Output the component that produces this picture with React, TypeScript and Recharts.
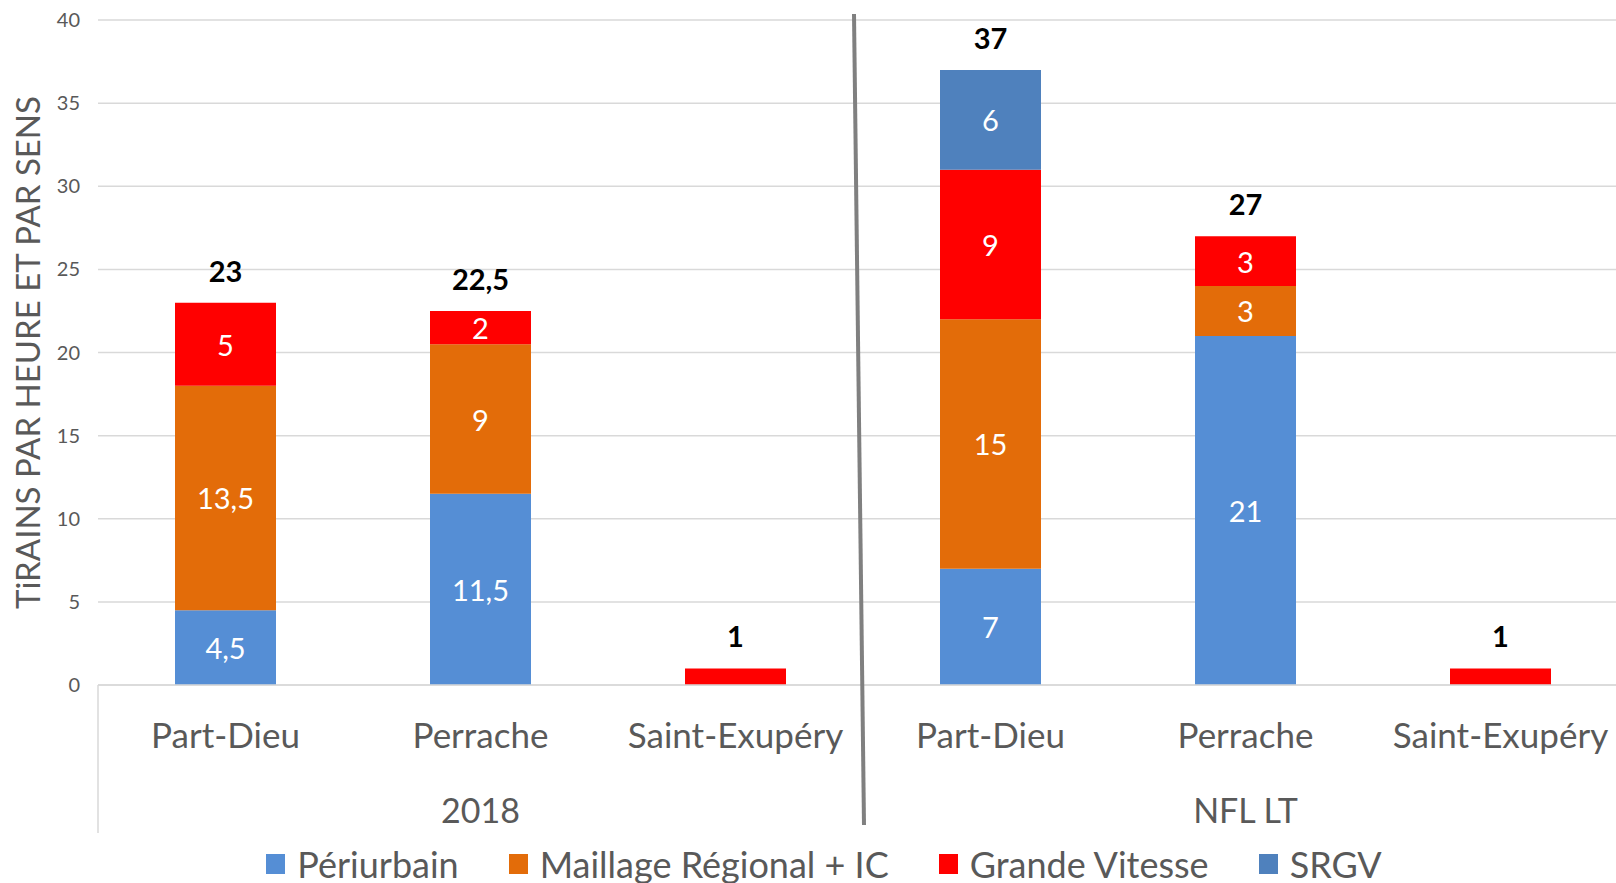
import React from 'react';
import { ComposedChart, Bar, Line, XAxis, YAxis, CartesianGrid, Legend, LabelList } from 'recharts';

const stations = ['Part-Dieu', 'Perrache', 'Saint-Exupéry', 'Part-Dieu', 'Perrache', 'Saint-Exupéry'];
const periods = ['2018', '2018', '2018', 'NFL LT', 'NFL LT', 'NFL LT'];
const periurbain = [4.5, 11.5, 0, 7, 21, 0];
const maillage = [13.5, 9, 0, 15, 3, 0];
const grandeVitesse = [5, 2, 1, 9, 3, 1];
const srgv = [0, 0, 0, 6, 0, 0];
const yTicks = [0, 5, 10, 15, 20, 25, 30, 35, 40];

const series = [
  { key: 'periurbain', name: 'Périurbain', color: '#558ED5' },
  { key: 'maillage', name: 'Maillage Régional + IC', color: '#E36C09' },
  { key: 'grandeVitesse', name: 'Grande Vitesse', color: '#FF0000' },
  { key: 'srgv', name: 'SRGV', color: '#4F81BD' },
];

const data = stations.map((station, i) => ({
  station,
  period: periods[i],
  periurbain: periurbain[i],
  maillage: maillage[i],
  grandeVitesse: grandeVitesse[i],
  srgv: srgv[i],
  total: periurbain[i] + maillage[i] + grandeVitesse[i] + srgv[i],
}));

const FONT = 'Lato, "Noto Sans", sans-serif';
const GREY = '#595959';

const fmt = (v: any) => (v === 0 || v == null ? '' : String(v).replace('.', ','));

// layout
const W = 1640;
const H = 883;
const TOP = 20;
const LEFT = 98;

// white value inside a segment (hidden when the segment is too thin)
const SegmentLabel = (p: any) => {
  const { x, y, width, height, value } = p;
  if (!value || Math.abs(Number(height)) < 24) return null;
  return (
    <text
      x={Number(x) + Number(width) / 2}
      y={Number(y) + Number(height) / 2}
      textAnchor="middle"
      dominantBaseline="central"
      fontFamily={FONT}
      fontSize={29}
      fill="#fff"
    >
      {fmt(value)}
    </text>
  );
};

const TotalLabel = (p: any) => {
  const { x, y, value } = p;
  return (
    <text x={Number(x)} y={Number(y) - 21} textAnchor="middle" fontFamily={FONT} fontWeight={700} fontSize={29} fill="#000">
      {fmt(value)}
    </text>
  );
};

const LegendContent = () => (
  <div
    style={{
      height: 38,
      display: 'flex',
      justifyContent: 'center',
      alignItems: 'center',
      gap: 50,
      fontFamily: FONT,
      fontSize: 36,
      color: GREY,
      paddingLeft: 20,
    }}
  >
    {series.map((s) => (
      <div key={s.key} style={{ display: 'flex', alignItems: 'center', gap: 12, whiteSpace: 'nowrap' }}>
        <span style={{ width: 19, height: 20, background: s.color, display: 'inline-block' }} />
        <span style={{ lineHeight: '38px' }}>{s.name}</span>
      </div>
    ))}
  </div>
);

const App: React.FC = () => {
  return (
    <div style={{ position: 'absolute', left: 0, top: 0, width: 1616, height: H, overflow: 'hidden', background: '#fff' }}>
      <ComposedChart width={W} height={H} data={data} margin={{ top: TOP, right: 12, bottom: 0, left: 0 }}>
        <CartesianGrid vertical={false} stroke="#d9d9d9" strokeWidth={1.5} />
        <XAxis
          dataKey="station"
          height={100}
          axisLine={{ stroke: '#d9d9d9', strokeWidth: 1.5 }}
          tickLine={false}
          tickSize={0}
          tickMargin={38}
          interval={0}
          tick={{ fill: GREY, fontSize: 35, fontFamily: FONT }}
        />
        <XAxis
          xAxisId="period"
          dataKey="period"
          allowDuplicatedCategory={false}
          height={60}
          axisLine={false}
          tickLine={false}
          tickSize={0}
          tickMargin={14}
          interval={0}
          tick={{ fill: GREY, fontSize: 34, fontFamily: FONT }}
        />
        <YAxis
          type="number"
          domain={[0, 40]}
          ticks={yTicks}
          width={LEFT}
          axisLine={false}
          tickLine={false}
          tickSize={0}
          tickMargin={18}
          tick={{ fill: GREY, fontSize: 20, fontFamily: FONT }}
          label={{
            value: 'TiRAINS PAR HEURE ET PAR SENS',
            angle: -90,
            position: 'center',
            dx: -21,
            style: { fill: GREY, fontSize: 33, fontFamily: FONT, textAnchor: 'middle' },
          }}
        />
        <Legend verticalAlign="bottom" content={<LegendContent />} />
        {series.map((s) => (
          <Bar key={s.key} dataKey={s.key} name={s.name} stackId="a" fill={s.color} barSize={101} isAnimationActive={false}>
            <LabelList dataKey={s.key} content={<SegmentLabel />} />
          </Bar>
        ))}
        <Line
          dataKey="total"
          stroke="none"
          dot={false}
          activeDot={false}
          legendType="none"
          isAnimationActive={false}
        >
          <LabelList dataKey="total" content={<TotalLabel />} />
        </Line>
      </ComposedChart>
      <svg width={1616} height={H} style={{ position: 'absolute', left: 0, top: 0, pointerEvents: 'none' }}>
        <line x1={LEFT} y1={685} x2={LEFT} y2={833} stroke="#d9d9d9" strokeWidth={1.5} />
        <line x1={854} y1={14} x2={864} y2={825} stroke="#808080" strokeWidth={4} />
      </svg>
    </div>
  );
};

export default App;
